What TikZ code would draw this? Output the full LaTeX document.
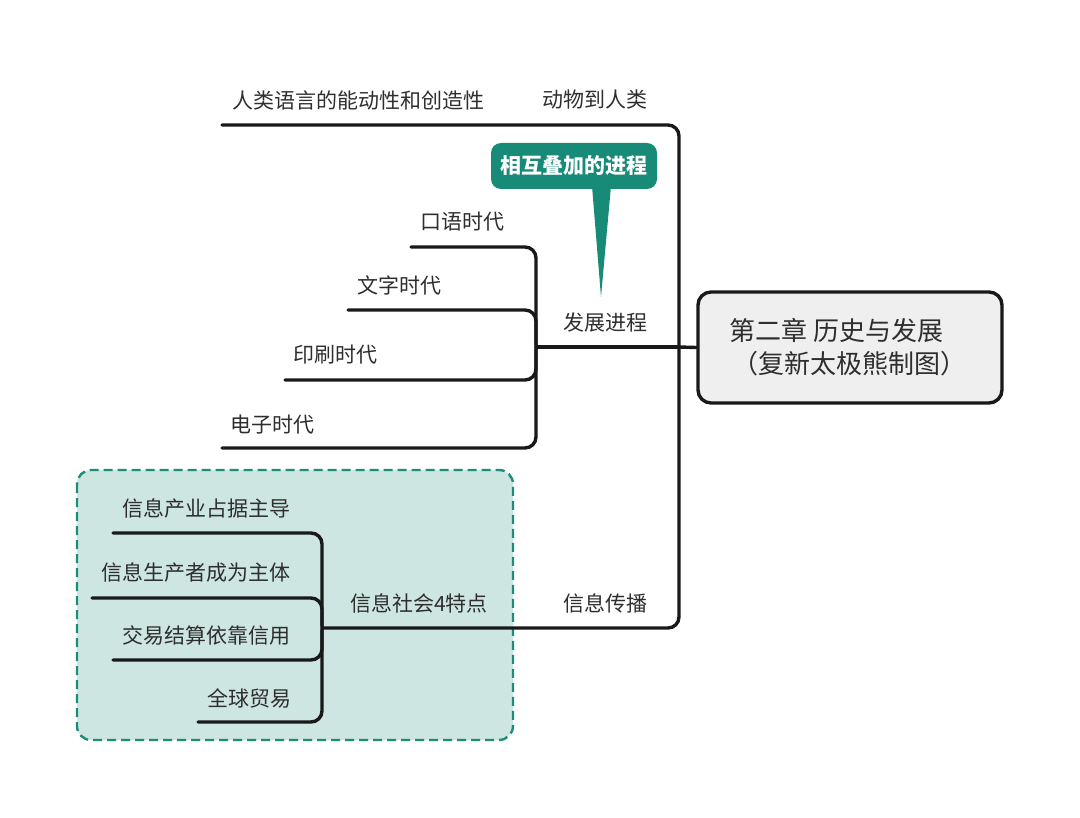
\documentclass[tikz,border=0pt]{standalone}
\usepackage{fontspec}
\newfontfamily\cjk{Noto Sans CJK SC}
\definecolor{txt}{HTML}{2E2E2E}
\definecolor{teal1}{HTML}{188A78}
\definecolor{boxfill}{HTML}{CDE6E1}
\definecolor{boxline}{HTML}{1D8C79}
\definecolor{centerfill}{HTML}{EFEFEF}
\tikzset{
  lbl/.style={font=\cjk\fontsize{21}{25}\selectfont, text=txt, inner sep=0pt, anchor=west},
  branch/.style={draw=black!90, line width=3.4pt, rounded corners=11pt, line cap=round},
}
\begin{document}
\begin{tikzpicture}[x=1pt,y=-1pt]
\useasboundingbox (0,0) rectangle (1080,818);
% dashed group box
\draw[fill=boxfill, draw=boxline, line width=2.4pt, dash pattern=on 9pt off 5pt, rounded corners=14pt] (77,470) rectangle (513,740);

% central node
\node[draw=black!90, line width=3.4pt, fill=centerfill, rounded corners=13pt, minimum width=304pt, minimum height=111pt, inner sep=0pt] (center) at (850,347.5) {};
\node[font=\cjk\fontsize{26}{30}\selectfont, text=txt, anchor=west, inner sep=0pt] (t1) at (729,330) {第二章 历史与发展};
\node[font=\cjk\fontsize{26}{30}\selectfont, text=txt, anchor=west, inner sep=0pt] (t2) at (732,364) {（复新太极熊制图）};

% coordinates
\coordinate (trunk) at (679,347);
\coordinate (topL) at (222,125);
\coordinate (botJ) at (322,628);
\coordinate (devJ) at (536,347);

% main trunk
\draw[branch] (topL) -- (679,125) -- (679,628) -- (botJ);
\draw[branch] (trunk) -- (center.west);
\draw[branch] (trunk) -- (devJ);

% development branch
\draw[branch] (411,247) -- (536,247) -- (536,448) -- (222,448);
\draw[branch] (348,310) -| (536,345);
\draw[branch] (285,380) -| (536,349);

% info society branch
\draw[branch] (113,533) -- (322,533) -- (322,722) -- (198,722);
\draw[branch] (92,598) -| (322,626);
\draw[branch] (113,660) -| (322,630);

% labels
\node[lbl] (l1) at (232,100) {人类语言的能动性和创造性};
\node[lbl] (l2) at (542,100) {动物到人类};
\node[lbl] (l3) at (563,323) {发展进程};
\node[lbl] (l4) at (563,603) {信息传播};
\node[lbl] (d1) at (420,222) {口语时代};
\node[lbl] (d2) at (357,285) {文字时代};
\node[lbl] (d3) at (293,355) {印刷时代};
\node[lbl] (d4) at (230,425) {电子时代};
\node[lbl] (s0) at (350,603) {信息社会4特点};
\node[lbl] (s1) at (122,508) {信息产业占据主导};
\node[lbl] (s2) at (101,572) {信息生产者成为主体};
\node[lbl] (s3) at (122,635) {交易结算依靠信用};
\node[lbl] (s4) at (207,698) {全球贸易};

% callout
\node[fill=teal1, rounded corners=10pt, minimum width=166pt, minimum height=46pt, inner sep=0pt, text=white, font=\cjk\bfseries\fontsize{21}{25}\selectfont] (call) at (574,166) {相互叠加的进程};
\coordinate (tip) at (601,297);
\fill[teal1] (592,186) -- (tip) -- (611,186) -- cycle;
\end{tikzpicture}
\end{document}
